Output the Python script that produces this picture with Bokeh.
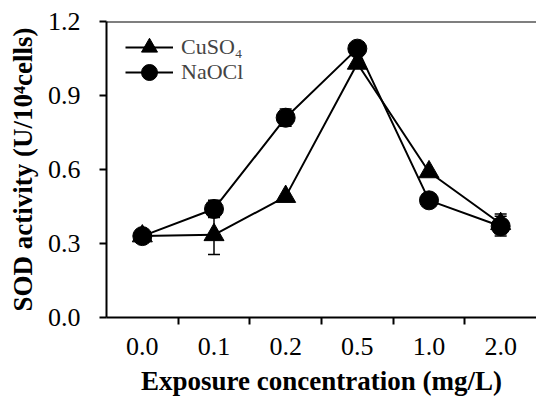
from bokeh.plotting import figure
from bokeh.models import ColumnDataSource, Whisker, TeeHead, FixedTicker, Span, Legend
from bokeh.embed import file_html
from bokeh.resources import INLINE

categories = ["0.0", "0.1", "0.2", "0.5", "1.0", "2.0"]
cuso4 = [0.33, 0.335, 0.49, 1.03, 0.59, 0.38]
cuso4_err = [0.0, 0.08, 0.0, 0.0, 0.0, 0.04]
naocl = [0.33, 0.44, 0.81, 1.09, 0.475, 0.37]
naocl_err = [0.0, 0.035, 0.035, 0.0, 0.0, 0.04]
y_ticks = [0.0, 0.3, 0.6, 0.9, 1.2]
series_names = ["CuSO\u2084", "NaOCl"]

FONT = "Liberation Serif"
xs = [i + 0.5 for i in range(len(categories))]

p = figure(width=536, height=398, output_backend="svg", toolbar_location=None,
           x_range=(0, len(categories)), y_range=(0, 1.2),
           min_border_left=106, min_border_right=0, min_border_top=21, min_border_bottom=81)
p.outline_line_color = None
p.grid.grid_line_color = None
p.background_fill_color = "white"

src_c = ColumnDataSource(dict(x=xs, y=cuso4, lo=[a - b for a, b in zip(cuso4, cuso4_err)],
                              hi=[a + b for a, b in zip(cuso4, cuso4_err)]))
src_n = ColumnDataSource(dict(x=xs, y=naocl, lo=[a - b for a, b in zip(naocl, naocl_err)],
                              hi=[a + b for a, b in zip(naocl, naocl_err)]))

for src in (src_c, src_n):
    w = Whisker(source=src, base="x", lower="lo", upper="hi", line_color="black", line_width=1.5,
                upper_head=TeeHead(size=12, line_color="black", line_width=1.5),
                lower_head=TeeHead(size=12, line_color="black", line_width=1.5))
    p.add_layout(w)

l1 = p.line("x", "y", source=src_c, line_color="black", line_width=2)
m1 = p.scatter("x", "y", source=src_c, marker="triangle", size=20, fill_color="black", line_color="black")
l2 = p.line("x", "y", source=src_n, line_color="black", line_width=2)
m2 = p.scatter("x", "y", source=src_n, marker="circle", size=19, fill_color="black", line_color="black")

p.add_layout(Span(location=1.2, dimension="width", line_color="black", line_width=2))

for name, rends, loc in ((series_names[0], [l1, m1], (19, 250)), (series_names[1], [l2, m2], (19, 225))):
    legend = Legend(items=[(name, rends)], location=loc)
    legend.border_line_color = None
    legend.background_fill_alpha = 0
    legend.label_text_font = FONT
    legend.label_text_font_size = "22px"
    legend.glyph_width = 48
    legend.glyph_height = 40
    legend.spacing = 0
    legend.margin = 0
    legend.padding = 0
    legend.label_standoff = 8
    legend.label_height = 20
    p.add_layout(legend)

xa = p.xaxis[0]
xa.ticker = FixedTicker(ticks=xs, minor_ticks=[1, 2, 3, 4, 5])
xa.major_label_overrides = {x: c for x, c in zip(xs, categories)}
xa.major_tick_out = 0
xa.major_tick_in = 0
xa.minor_tick_out = 7
xa.minor_tick_in = 0
xa.minor_tick_line_color = "black"
xa.minor_tick_line_width = 2
xa.axis_label = "Exposure concentration (mg/L)"
xa.major_label_standoff = 13

ya = p.yaxis[0]
ya.ticker = FixedTicker(ticks=y_ticks)
ya.major_label_overrides = {0.0: "0.0", 1.2: "1.2"}
ya.major_tick_out = 7
ya.major_tick_in = 0
ya.minor_tick_line_color = None
ya.axis_label = "SOD activity (U/10\u2074cells)"
ya.major_label_standoff = 19

for ax in (xa, ya):
    ax.axis_line_color = "black"
    ax.axis_line_width = 2
    ax.major_tick_line_color = "black"
    ax.major_tick_line_width = 2
    ax.major_label_text_font = FONT
    ax.major_label_text_font_size = "26px"
    ax.major_label_text_color = "black"
    ax.axis_label_text_font = FONT
    ax.axis_label_text_font_size = "27px"
    ax.axis_label_text_font_style = "bold"
    ax.axis_label_text_color = "black"
xa.axis_label_standoff = 8
ya.axis_label_standoff = 7

open("out.html", "w").write(file_html(p, INLINE))
